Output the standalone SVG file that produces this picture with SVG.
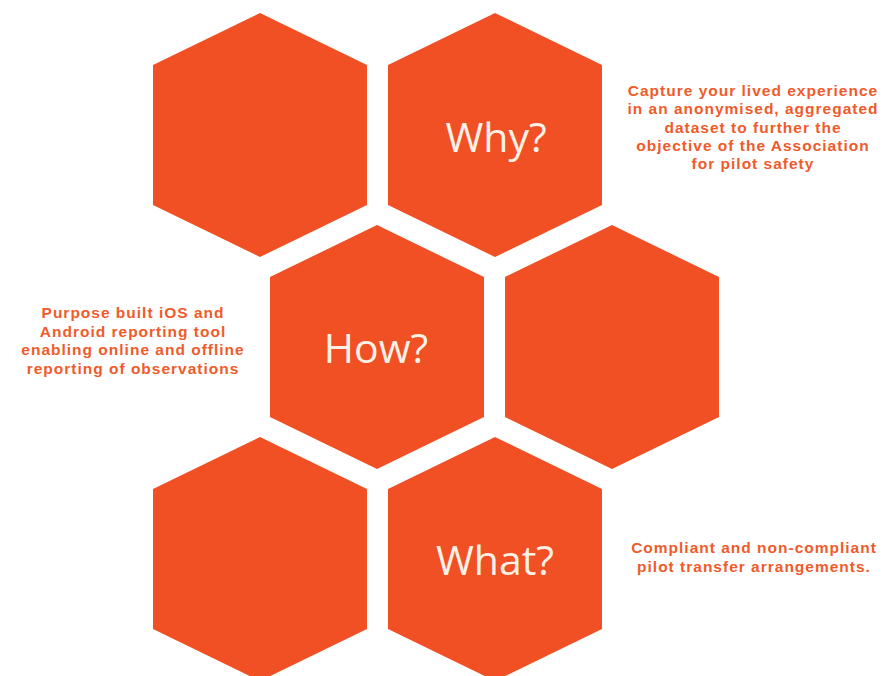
<svg xmlns="http://www.w3.org/2000/svg" xmlns:xlink="http://www.w3.org/1999/xlink" width="882" height="676" viewBox="0 0 882 676">
  <style>
    .hex { fill: #F05023; }
    .lbl { font-family: "Open Sans", "Liberation Sans", sans-serif; font-size: 41px; fill: #FCF1E6; text-anchor: middle; }
    .note { font-family: "Liberation Sans", Arial, sans-serif; font-size: 15.5px; font-weight: 700; letter-spacing: 1px; fill: #EF5B2A; text-anchor: middle; }
  </style>
  <defs>
    <polygon id="hexShape" points="0,-122 107,-70 107,70 0,122 -107,70 -107,-70"/>
  </defs>
  <rect width="882" height="676" fill="#FFFFFF"/>
  <g id="hex-top-left"><use xlink:href="#hexShape" href="#hexShape" class="hex" x="260" y="135"/></g>
  <g id="hex-why">
    <use xlink:href="#hexShape" href="#hexShape" class="hex" x="495" y="135"/>
    <text class="lbl" x="496" y="152">Why?</text>
  </g>
  <g id="hex-how">
    <use xlink:href="#hexShape" href="#hexShape" class="hex" x="377" y="347"/>
    <text class="lbl" x="376" y="363">How?</text>
  </g>
  <g id="hex-mid-right"><use xlink:href="#hexShape" href="#hexShape" class="hex" x="612" y="347"/></g>
  <g id="hex-bottom-left"><use xlink:href="#hexShape" href="#hexShape" class="hex" x="260" y="559"/></g>
  <g id="hex-what">
    <use xlink:href="#hexShape" href="#hexShape" class="hex" x="495" y="559"/>
    <text class="lbl" x="495" y="575">What?</text>
  </g>
  <g id="note-why">
    <text class="note" x="753" y="96">Capture your lived experience</text>
    <text class="note" x="753" y="114">in an anonymised, aggregated</text>
    <text class="note" x="753" y="132.5">dataset to further the</text>
    <text class="note" x="753" y="150.5">objective of the Association</text>
    <text class="note" x="753" y="169">for pilot safety</text>
  </g>
  <g id="note-how">
    <text class="note" x="133" y="318">Purpose built iOS and</text>
    <text class="note" x="133" y="337">Android reporting tool</text>
    <text class="note" x="133" y="355">enabling online and offline</text>
    <text class="note" x="133" y="374">reporting of observations</text>
  </g>
  <g id="note-what">
    <text class="note" x="754" y="553">Compliant and non-compliant</text>
    <text class="note" x="754" y="572">pilot transfer arrangements.</text>
  </g>
  <g id="connectors"></g>
</svg>
